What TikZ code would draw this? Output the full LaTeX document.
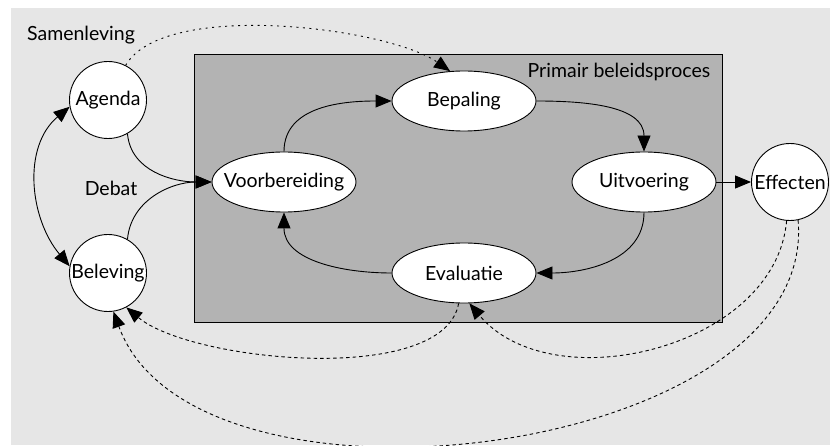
\documentclass[tikz,border=0pt]{standalone}
\usepackage{fontspec}
\setmainfont{Lato}
\usepackage{tikz}
\usetikzlibrary{arrows.meta,automata,positioning,shapes.geometric}
\definecolor{society}{HTML}{E6E6E6}
\definecolor{process}{HTML}{B3B3B3}
\tikzset{
  phase/.style={ellipse, draw, fill=white, minimum width=144pt, minimum height=60pt, inner xsep=-12pt, inner ysep=0pt},
  feedback/.style={dash pattern=on 3.5pt off 3pt},
  agendaline/.style={dash pattern=on 2pt off 4.5pt}
}

\begin{document}
\begin{tikzpicture}[node distance=180pt, on grid, auto, x=1pt, y=-1pt,
    >={Triangle[length=16pt,width=13pt]}, line width=0.9pt,
    every state/.style={draw, fill=white, minimum size=77pt, inner sep=0pt},
    font=\fontsize{19.5}{23}\selectfont]
  \useasboundingbox (0,0) rectangle (830,446);
  \fill[society] (11,8) rectangle (830,445);
  \draw[fill=process] (194,54) rectangle (722,322);

  \node (samenleving) at (81,35) {Samenleving};
  \node (debat) at (111,188) {Debat};
  \node[anchor=east] (primair) at (714,72) {Primair beleidsproces};

  \node[state] (agenda) at (108,100) {Agenda};
  \node[state, below=173pt of agenda] (beleving) {Beleving};
  \node[phase] (voorb) at (284,182) {Voorbereiding};
  \node[phase, above right=81pt and 180pt of voorb] (bepaling) {Bepaling};
  \node[phase, right=360pt of voorb] (uitvoering) {Uitvoering};
  \node[phase, below=172pt of bepaling] (evaluatie) {Evaluatie};
  \node[state, right=146pt of uitvoering] (effecten) {Effecten};

  \path[->]
    (agenda.-60) edge[out=-85, in=180] (voorb.west)
    (beleving.60) edge[out=85, in=180] (voorb.west)
    (agenda.190) edge[<->, out=220, in=130] (beleving.170)
    (voorb.north) edge[out=90, in=180] (bepaling.west)
    (bepaling.east) edge[out=0, in=90] (uitvoering.north)
    (uitvoering.south) edge[out=-90, in=0] (evaluatie.east)
    (evaluatie.west) edge[out=180, in=-90] (voorb.south)
    (uitvoering) edge (effecten)
    (agenda.63) edge[agendaline, out=60, in=145, looseness=0.6] (bepaling.115)
    (effecten.-95) edge[feedback, out=-95, in=-50] (evaluatie.-80)
    (effecten.-78) edge[feedback, out=-85, in=-70, looseness=0.88] (beleving.-82)
    (evaluatie.-100) edge[feedback, out=-100, in=-40, looseness=0.65] (beleving.-62)
    ;
\end{tikzpicture}
\end{document}
